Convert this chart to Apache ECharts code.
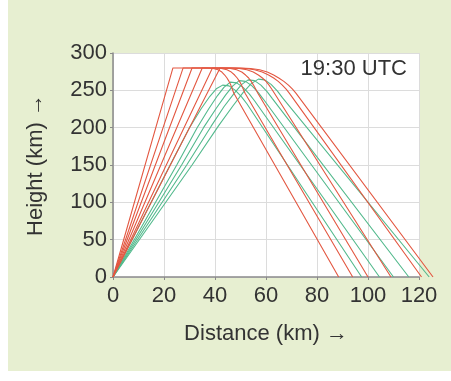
<!DOCTYPE html>
<html><head><meta charset="utf-8">
<script src="https://cdn.jsdelivr.net/npm/echarts@6/dist/echarts.min.js"></script>
<style>html,body{margin:0;padding:0;background:#fff}#c{width:451px;height:381px}</style>
</head><body><div id="c"></div>
<script>
// Ray paths: [distance km, height km]
const red1 = [[0,0],[23.5,280],[37,280],[39.3,279.3],[41.2,277.5],[42.7,274.5],[43.8,270.5],[44.7,266.5],[45.5,262],[46.2,257],[46.8,251.5],[47.4,246],[88.5,0]];
const red2 = [[0,0],[27.5,280],[40,280],[42.5,279.3],[44.7,277.5],[46.4,274.5],[47.7,270.5],[48.7,266.5],[49.6,262],[50.4,257],[51.1,251.5],[51.8,246],[94,0]];
const red3 = [[0,0],[31,280],[43,280],[46,279.3],[48.5,277.5],[50.5,274.5],[52,270.5],[53.2,266.5],[54.2,262],[55.1,257],[56,251.5],[56.8,246],[100,0]];
const red4 = [[0,0],[35,280],[46,280],[49.5,279.3],[52.5,277.5],[55,274.5],[57,270.5],[58.6,266.5],[60,262],[61.2,257],[62.3,251.5],[63.3,246],[109,0]];
const red5 = [[0,0],[39,280],[48,280],[52,279.3],[55.5,277.5],[58.5,274.5],[61,270.5],[63,266.5],[64.8,262],[66.4,257],[67.9,251.5],[69.2,246],[121,0]];
const red6 = [[0,0],[42,280],[50,280],[54,279.3],[57.5,277.5],[60.5,274.5],[63,270.5],[65,266.5],[67,262],[68.8,257],[70.4,251.5],[71.8,246],[125.5,0]];
const green1 = [[0,0],[22.4,150],[30,200],[34.5,225],[38,242],[40.5,252],[43,257],[45.5,256],[48,250],[50.5,241],[52.5,232],[97.5,0]];
const green2 = [[0,0],[25,150],[33,200],[37.5,225],[41,243],[43.5,254],[46,261],[48.5,260],[51,254],[53.5,245],[55.5,236],[104.5,0]];
const green3 = [[0,0],[26.9,150],[35.5,200],[40.5,226],[44.2,244],[47,256],[49.5,263],[52,262],[54.5,256],[57,247],[59,238],[110,0]];
const green4 = [[0,0],[28.9,150],[38.5,202],[43.5,228],[47.5,246],[50.5,258],[53,264],[55.5,263],[58,257],[60.5,248],[62.5,239],[116,0]];
const green5 = [[0,0],[31,150],[41.5,203],[47,229],[51,247],[54.2,259],[57,265],[59.5,264],[62,258],[64.5,249],[66.5,240],[124,0]];
const redSeries = [red1, red2, red3, red4, red5, red6];
const greenSeries = [green1, green2, green3, green4, green5];
const xTicks = [0, 20, 40, 60, 80, 100, 120];
const yTicks = [0, 50, 100, 150, 200, 250, 300];
const label = '19:30 UTC';

const FONT = '"Liberation Sans", Arial, sans-serif';
const chart = echarts.init(document.getElementById('c'), null, {renderer: 'canvas'});
// plot: x 0..120 over 306px; a second, hidden grid with the same scale reaches 127 so paths past 120 are drawn
const PX = 306 / 120;
const X2MAX = 127;
const mk = (d, color) => ({
  type: 'line', data: d, showSymbol: false, smooth: false, xAxisIndex: 1, yAxisIndex: 1,
  lineStyle: {color: color, width: 1.1}, silent: true, animation: false
});
const series = [];
greenSeries.forEach(d => series.push(mk(d, '#52b98c')));
redSeries.forEach(d => series.push(mk(d, '#e35741')));

chart.setOption({
  animation: false,
  backgroundColor: '#ffffff',
  graphic: [
    {type: 'rect', z: -10, shape: {x: 8, y: 0, width: 443, height: 371}, style: {fill: '#e7efd1'}},
    {type: 'rect', z: -9, shape: {x: 113, y: 53, width: 306, height: 224}, style: {fill: '#ffffff'}},
    {type: 'text', right: 44, top: 58, z: 10, style: {text: label, font: '22px ' + FONT, fill: '#333'}}
  ],
  grid: [
    {left: 113, right: 32, top: 53, bottom: 104, show: false},
    {left: 113, width: X2MAX * PX, top: 53, bottom: 104, show: false}
  ],
  xAxis: [{
    type: 'value', min: 0, max: 120, interval: 20, gridIndex: 0,
    name: 'Distance (km) →', nameLocation: 'middle', nameGap: 46,
    nameTextStyle: {fontSize: 22, fontFamily: FONT, color: '#333'},
    axisLine: {show: true, lineStyle: {color: '#8a8a8a', width: 1.5}},
    axisTick: {show: true, length: 3, lineStyle: {color: '#8a8a8a'}},
    axisLabel: {fontSize: 22, fontFamily: FONT, color: '#333', margin: 8},
    splitLine: {show: true, lineStyle: {color: '#dcdcdc', width: 1}}
  }, {
    type: 'value', min: 0, max: X2MAX, gridIndex: 1, show: false
  }],
  yAxis: [{
    type: 'value', min: 0, max: 300, interval: 50, gridIndex: 0,
    name: 'Height (km) →', nameLocation: 'middle', nameGap: 66, nameRotate: 90,
    nameTextStyle: {fontSize: 22, fontFamily: FONT, color: '#333'},
    axisLine: {show: true, lineStyle: {color: '#8a8a8a', width: 1.5}},
    axisTick: {show: true, length: 3, lineStyle: {color: '#8a8a8a'}},
    axisLabel: {fontSize: 22, fontFamily: FONT, color: '#333', margin: 6},
    splitLine: {show: true, lineStyle: {color: '#dcdcdc', width: 1}}
  }, {
    type: 'value', min: 0, max: 300, gridIndex: 1, show: false
  }],
  series: series
});
</script></body></html>
